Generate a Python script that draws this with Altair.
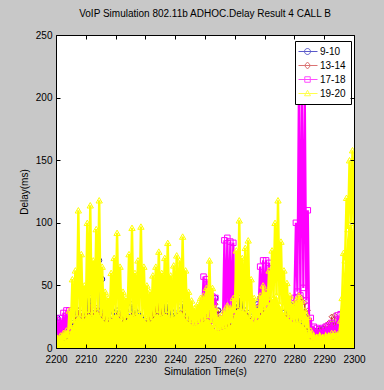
import altair as alt
import pandas as pd

# ---------------- data ----------------
times = list(range(2200, 2301))

series_names = ["9-10", "13-14", "17-18", "19-20"]
series_colors = ["#1414b4", "#cc3a3a", "#ff00ff", "#ffff00"]
series_shapes = ["circle", "diamond", "square", "triangle-up"]

x_ticks = list(range(2200, 2301, 10))
y_ticks = [0, 50, 100, 150, 200, 250]

title_text = "VoIP Simulation 802.11b ADHOC.Delay Result 4 CALL B"
x_title = "Simulation Time(s)"
y_title = "Delay(ms)"

# per-second peak (hi) and trough (lo) delays, ms
blue_hi = [24, 18, 16, 15, 14, 20, 40, 30, 25, 35,
           45, 40, 50, 65, 70, 55, 30, 25, 22, 28,
           30, 22, 28, 30, 25, 35, 30, 28, 25, 22,
           20, 25, 28, 45, 52, 48, 40, 35, 30, 28,
           25, 30, 35, 28, 30, 25, 22, 20, 25, 28,
           30, 25, 35, 40, 30, 22, 20, 22, 25, 30,
           35, 40, 38, 30, 28, 25, 30, 35, 40, 38,
           30, 25, 28, 30, 25, 22, 28, 30, 35, 30,
           35, 30, 28, 25, 20, 15, 14, 13, 14, 15,
           14, 15, 16, 18, 17, 20, 30, 35, 40, 42, 45]
blue_lo = [18, 12, 10, 8, 8, 7, 9, 8, 10, 9,
           8, 10, 12, 28, 30, 10, 8, 7, 8, 9,
           8, 7, 9, 8, 7, 9, 8, 10, 8, 7,
           8, 9, 10, 22, 25, 24, 10, 8, 9, 8,
           7, 8, 9, 10, 8, 7, 8, 7, 9, 8,
           10, 9, 8, 12, 10, 8, 9, 10, 9, 8,
           10, 12, 10, 9, 8, 9, 8, 10, 14, 12,
           9, 8, 9, 10, 8, 7, 9, 8, 10, 9,
           12, 10, 9, 8, 9, 8, 8, 9, 10, 9,
           8, 9, 10, 9, 8, 10, 12, 14, 18, 20, 22]

red_hi = [16, 15, 14, 14, 15, 18, 25, 30, 28, 26,
          30, 35, 28, 32, 30, 28, 25, 22, 20, 24,
          26, 28, 25, 22, 24, 26, 28, 24, 22, 20,
          22, 25, 30, 35, 38, 32, 28, 25, 22, 20,
          24, 28, 30, 26, 24, 22, 20, 18, 22, 24,
          26, 28, 32, 35, 30, 20, 18, 20, 22, 25,
          30, 32, 30, 28, 25, 22, 25, 28, 35, 32,
          28, 25, 24, 26, 24, 22, 25, 28, 30, 32,
          35, 38, 40, 36, 30, 16, 15, 14, 15, 16,
          18, 20, 25, 26, 20, 18, 22, 28, 32, 35, 38]
red_lo = [9, 8, 8, 7, 8, 9, 10, 9, 8, 9,
          10, 9, 8, 10, 9, 8, 9, 7, 8, 9,
          8, 9, 10, 8, 9, 10, 8, 9, 8, 7,
          8, 9, 10, 12, 11, 10, 9, 8, 9, 8,
          9, 10, 9, 8, 9, 8, 7, 8, 9, 10,
          9, 10, 11, 12, 10, 9, 8, 9, 10, 9,
          10, 11, 10, 9, 8, 9, 10, 11, 14, 12,
          10, 9, 8, 9, 10, 8, 9, 10, 12, 14,
          16, 18, 20, 18, 14, 9, 8, 8, 9, 9,
          10, 11, 14, 15, 11, 9, 10, 12, 14, 15, 16]

magenta_hi = [22, 24, 28, 30, 30, 18, 15, 14, 16, 15,
              18, 16, 15, 17, 18, 16, 15, 14, 15, 16,
              18, 17, 16, 15, 16, 17, 18, 16, 15, 14,
              15, 16, 17, 18, 16, 15, 14, 15, 16, 17,
              18, 16, 15, 14, 16, 18, 20, 22, 25, 57,
              55, 30, 41, 40, 24, 22, 86, 88, 85, 84,
              20, 18, 17, 16, 18, 20, 22, 25, 65, 70,
              70, 68, 25, 22, 20, 18, 20, 22, 25, 30,
              100, 205, 215, 200, 110, 24, 17, 16, 15, 16,
              17, 18, 20, 18, 26, 27, 20, 16, 15, 14, 15]
magenta_lo = [10, 9, 10, 12, 11, 8, 7, 8, 7, 8,
              9, 8, 7, 8, 9, 8, 7, 8, 9, 8,
              7, 8, 9, 8, 7, 8, 9, 8, 7, 8,
              9, 8, 7, 8, 9, 8, 7, 8, 9, 8,
              7, 8, 9, 8, 9, 10, 11, 12, 14, 25,
              28, 20, 22, 20, 16, 15, 20, 22, 24, 25,
              12, 10, 9, 10, 11, 12, 13, 15, 32, 35,
              34, 30, 14, 12, 11, 10, 12, 13, 15, 18,
              40, 45, 42, 48, 38, 9, 8, 8, 9, 8,
              8, 9, 10, 9, 10, 11, 9, 8, 8, 9, 8]

yellow_hi = [8, 10, 12, 14, 30, 55, 62, 110, 75, 50,
             100, 114, 70, 95, 118, 65, 45, 40, 60, 72,
             92, 65, 45, 40, 75, 96, 60, 70, 97, 65,
             50, 45, 58, 65, 77, 60, 72, 84, 58, 66,
             74, 70, 89, 62, 45, 38, 32, 35, 40, 42,
             48, 70, 48, 32, 25, 26, 30, 34, 32, 40,
             78, 102, 72, 80, 86, 55, 40, 32, 42, 50,
             45, 62, 78, 100, 118, 85, 62, 52, 42, 35,
             38, 42, 38, 30, 25, 14, 10, 9, 10, 9,
             10, 10, 12, 12, 11, 22, 76, 120, 150, 158, 152]
yellow_base = [4, 5, 5, 6, 8, 15, 20, 25, 25, 22,
               25, 28, 25, 28, 30, 25, 22, 20, 22, 24,
               28, 25, 22, 20, 24, 28, 25, 26, 28, 25,
               22, 20, 22, 25, 28, 25, 26, 28, 25, 24,
               26, 28, 30, 25, 22, 20, 18, 18, 20, 20,
               22, 24, 20, 16, 14, 14, 15, 16, 16, 20,
               28, 32, 30, 30, 28, 24, 22, 20, 24, 28,
               30, 34, 38, 40, 42, 35, 30, 26, 24, 22,
               20, 20, 20, 18, 16, 8, 6, 6, 6, 6,
               6, 6, 7, 7, 7, 10, 40, 70, 95, 100, 90]

# legend sample symbols: a short line with the marker on it
legend_paths = [
    "M-1.4,0H2.4M-0.2,0A0.6,0.6,0,1,0,1,0A0.6,0.6,0,1,0,-0.2,0Z",
    "M-1.4,0H2.4M0.4,-0.7L1,0L0.4,0.7L-0.2,0Z",
    "M-1.4,0H2.4M-0.15,-0.55H0.95V0.55H-0.15Z",
    "M-1.4,0H2.4M0.4,-0.65L1,0.45H-0.2Z",
]

# ---------------- build table ----------------
rows = []
for name, lo, hi in [("9-10", blue_lo, blue_hi), ("13-14", red_lo, red_hi),
                     ("17-18", magenta_lo, magenta_hi), ("19-20", yellow_base, yellow_hi)]:
    for i, t in enumerate(times):
        rows.append({"series": name, "t": t, "v": lo[i], "k": 2 * i, "part": "lo"})
        rows.append({"series": name, "t": t + 0.5, "v": hi[i], "k": 2 * i + 1, "part": "hi"})
df = pd.DataFrame(rows)

W, H = 298, 313
FONT = "Liberation Sans, Arial, sans-serif"

xscale = alt.Scale(domain=[2200, 2300], nice=False, zero=False)
yscale = alt.Scale(domain=[0, 250], nice=False)

X = lambda axis=None: alt.X("t:Q", scale=xscale, axis=axis)
Y = lambda axis=None: alt.Y("v:Q", scale=yscale, axis=axis)

line_w = {"9-10": 1.0, "13-14": 1.0, "17-18": 2.2, "19-20": 2.4}
pt_size = {"9-10": 26, "13-14": 26, "17-18": 30, "19-20": 40}

base = alt.Chart(df)
layers = []

for name, color, shape in zip(series_names, series_colors, series_shapes):
    sub = base.transform_filter(alt.datum.series == name)
    if name == "19-20":
        layers.append(
            sub.transform_filter(alt.datum.part == "lo")
            .mark_area(color=color, clip=True)
            .encode(x=X(), y=Y())
        )
    layers.append(
        sub.mark_line(color=color, strokeWidth=line_w[name], clip=True)
        .encode(x=X(), y=Y(), order="k:Q")
    )
    layers.append(
        sub.mark_point(shape=shape, filled=False, size=pt_size[name], strokeWidth=1,
                       color=color, clip=True, opacity=1)
        .encode(x=X(), y=Y())
    )

# legend-only layer (points lie outside the visible domain and are clipped)
leg_df = pd.DataFrame({"series": series_names, "t": [2100] * 4, "v": [0] * 4})
legend_def = alt.Legend(
    title=None, orient="none", legendX=239, legendY=6,
    fillColor="white", strokeColor="black", padding=5,
    symbolSize=100, symbolStrokeWidth=1, symbolFillColor="transparent",
    labelFont=FONT, labelFontSize=10, labelColor="black", labelOffset=9,
    rowPadding=3, cornerRadius=0,
)
layers.append(
    alt.Chart(leg_df).mark_point(filled=False, clip=True, size=100)
    .encode(
        x=X(), y=Y(),
        color=alt.Color("series:N", scale=alt.Scale(domain=series_names, range=series_colors),
                        legend=legend_def),
        shape=alt.Shape("series:N", scale=alt.Scale(domain=series_names, range=legend_paths),
                        legend=legend_def),
    )
)

# axes: labelled bottom/left, plus inward ticks on all four sides
ax_df = pd.DataFrame({"t": [2200], "v": [0]})
common = dict(domainColor="black", tickColor="black", zindex=2)
layers.append(
    alt.Chart(ax_df).mark_point(opacity=0).encode(
        x=X(alt.Axis(orient="bottom", values=x_ticks, format="d", ticks=False, domain=True,
                     labelOverlap=False, labelFlush=False, labelPadding=6,
                     title=x_title, titlePadding=2, **common)),
        y=Y(alt.Axis(orient="left", values=y_ticks, format="d", ticks=False, domain=True,
                     labelOverlap=False, labelFlush=False, labelPadding=4,
                     title=y_title, titlePadding=6, **common)),
    )
)
layers.append(
    alt.Chart(ax_df).mark_point(opacity=0).encode(
        x=X(alt.Axis(orient="top", offset=-H, values=x_ticks, labels=False, domain=False,
                     ticks=True, tickSize=4, title=None, **common)),
        y=Y(alt.Axis(orient="right", offset=-W, values=y_ticks, labels=False, domain=False,
                     ticks=True, tickSize=4, title=None, **common)),
    )
)
layers.append(
    alt.Chart(ax_df).mark_point(opacity=0).encode(
        x=X(alt.Axis(orient="bottom", offset=-H, values=x_ticks, labels=False, domain=True,
                     ticks=True, tickSize=4, title=None, **common)),
        y=Y(alt.Axis(orient="left", offset=-W, values=y_ticks, labels=False, domain=True,
                     ticks=True, tickSize=4, title=None, **common)),
    )
)

chart = (
    alt.layer(*layers)
    .resolve_axis(x="independent", y="independent")
    .properties(
        width=W, height=H,
        title=alt.TitleParams(title_text, font=FONT, fontSize=10, fontWeight="normal",
                              color="black", anchor="middle", offset=11),
        background="#c8c8c8",
        padding={"left": 56, "top": 35, "right": 30, "bottom": 42},
        autosize=alt.AutoSizeParams(type="none"),
    )
    .configure_view(fill="white", stroke=None)
    .configure_axis(labelFont=FONT, labelFontSize=10, labelColor="black",
                    titleFont=FONT, titleFontSize=10, titleFontWeight="normal",
                    titleColor="black", grid=False)
)

chart.save("out.html", embed_options={"renderer": "svg", "actions": False})
